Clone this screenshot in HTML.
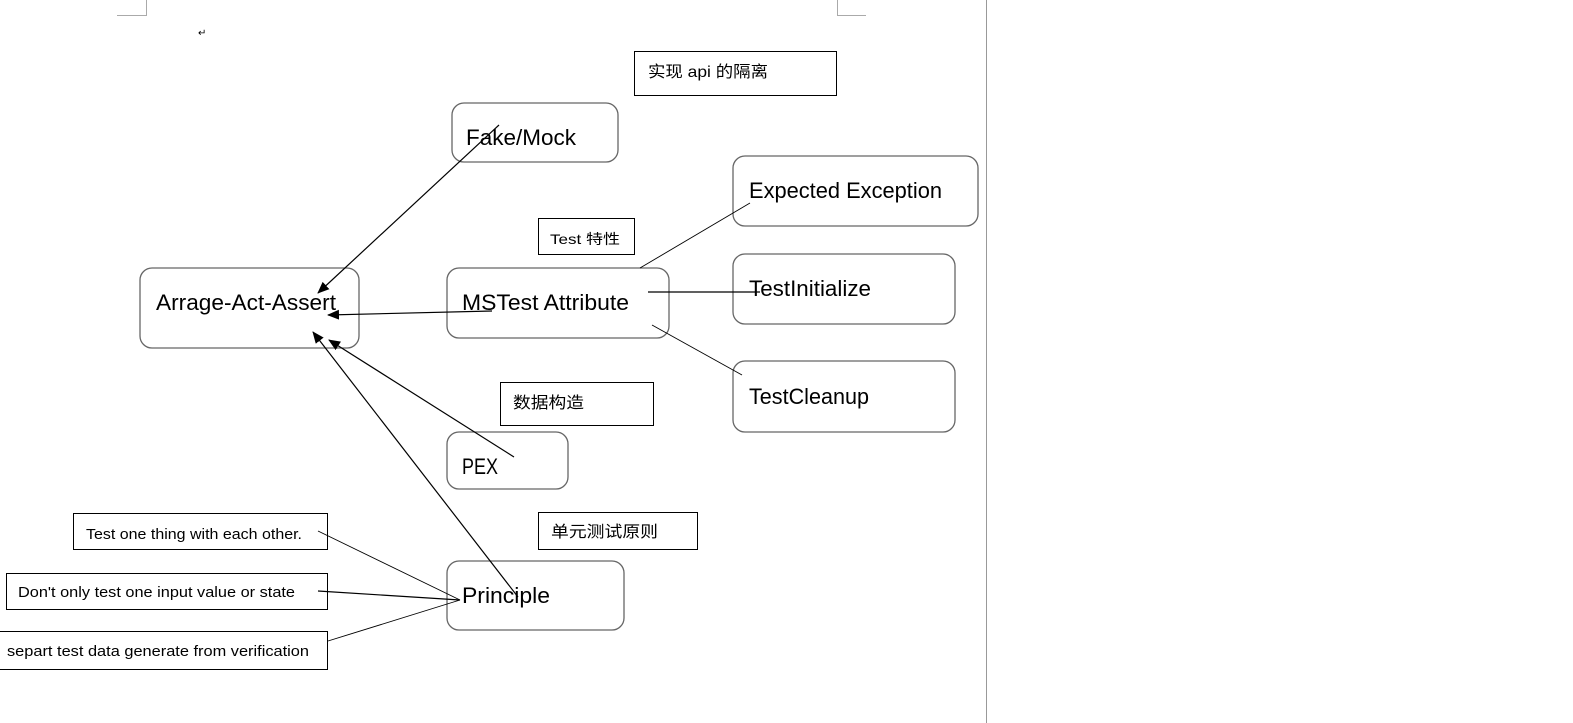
<!DOCTYPE html>
<html><head><meta charset="utf-8"><style>
html,body{margin:0;padding:0;background:#fff;width:1573px;height:723px;overflow:hidden}
svg text{font-family:"Liberation Sans","Noto Sans CJK SC",sans-serif;fill:#000}
</style></head><body>
<svg width="1573" height="723" viewBox="0 0 1573 723" xmlns="http://www.w3.org/2000/svg">
<defs><marker id="a" markerWidth="12" markerHeight="10" refX="11" refY="5" orient="auto" markerUnits="userSpaceOnUse"><path d="M0,0 L12,5 L0,10 z" fill="#000"/></marker></defs>
<g stroke="#aaa" fill="none" stroke-width="1">
<path d="M117,15.5 H146.5 V0"/><path d="M866,15.5 H837.5 V0"/>
</g>
<line x1="986.5" y1="0" x2="986.5" y2="723" stroke="#999"/>
<text x="198" y="36" font-size="10" fill="#888">↵</text>
<g fill="none" stroke="#000" stroke-width="1">
<rect x="634.5" y="51.5" width="202" height="44"/>
<rect x="538.5" y="218.5" width="96" height="36"/>
<rect x="500.5" y="382.5" width="153" height="43"/>
<rect x="538.5" y="512.5" width="159" height="37"/>
<rect x="73.5" y="513.5" width="254" height="36"/>
<rect x="6.5" y="573.5" width="321" height="36"/>
<rect x="-1" y="631.5" width="328.5" height="38"/>
</g>
<g fill="none" stroke="#666" stroke-width="1.3">
<rect x="452" y="103" width="166" height="59" rx="12"/>
<rect x="733" y="156" width="245" height="70" rx="12"/>
<rect x="140" y="268" width="219" height="80" rx="12"/>
<rect x="447" y="268" width="222" height="70" rx="12"/>
<rect x="733" y="254" width="222" height="70" rx="12"/>
<rect x="733" y="361" width="222" height="71" rx="12"/>
<rect x="447" y="432" width="121" height="57" rx="12"/>
<rect x="447" y="561" width="177" height="69" rx="12"/>
</g>
<g font-size="22">
<text x="466" y="145" textLength="110" lengthAdjust="spacingAndGlyphs">Fake/Mock</text>
<text x="749" y="198" textLength="193" lengthAdjust="spacingAndGlyphs">Expected Exception</text>
<text x="156" y="310" textLength="180" lengthAdjust="spacingAndGlyphs">Arrage-Act-Assert</text>
<text x="462" y="310" textLength="167" lengthAdjust="spacingAndGlyphs">MSTest Attribute</text>
<text x="749" y="296" textLength="122" lengthAdjust="spacingAndGlyphs">TestInitialize</text>
<text x="749" y="404" textLength="120" lengthAdjust="spacingAndGlyphs">TestCleanup</text>
<text x="462" y="474" textLength="36" lengthAdjust="spacingAndGlyphs">PEX</text>
<text x="462" y="603" textLength="88" lengthAdjust="spacingAndGlyphs">Principle</text>
</g>
<g font-size="16">
<text x="648" y="77" textLength="120" lengthAdjust="spacingAndGlyphs">实现 api 的隔离</text>
<text x="550" y="244" font-size="14" textLength="70" lengthAdjust="spacingAndGlyphs">Test 特性</text>
<text x="513" y="408" textLength="71" lengthAdjust="spacingAndGlyphs">数据构造</text>
<text x="551" y="537" textLength="107" lengthAdjust="spacingAndGlyphs">单元测试原则</text>
</g>
<g font-size="15">
<text x="86" y="539" textLength="216" lengthAdjust="spacingAndGlyphs">Test one thing with each other.</text>
<text x="18" y="597" textLength="277" lengthAdjust="spacingAndGlyphs">Don't only test one input value or state</text>
<text x="7" y="656" textLength="302" lengthAdjust="spacingAndGlyphs">separt test data generate from verification</text>
</g>
<g stroke="#000" stroke-width="1.2" fill="none">
<line x1="499" y1="125" x2="318" y2="293" marker-end="url(#a)"/>
<line x1="492" y1="311" x2="328" y2="315" marker-end="url(#a)"/>
<line x1="514" y1="457" x2="329" y2="340" marker-end="url(#a)"/>
<line x1="518" y1="597" x2="313" y2="332" marker-end="url(#a)"/>
<line x1="640" y1="268" x2="750" y2="203" stroke-width="0.9"/>
<line x1="648" y1="292" x2="760" y2="292"/>
<line x1="652" y1="325" x2="742" y2="375" stroke-width="0.9"/>
<line x1="460" y1="600" x2="318" y2="531" stroke-width="0.9"/>
<line x1="460" y1="600" x2="318" y2="591"/>
<line x1="460" y1="600" x2="328" y2="641" stroke-width="0.9"/>
</g>
</svg>
</body></html>
